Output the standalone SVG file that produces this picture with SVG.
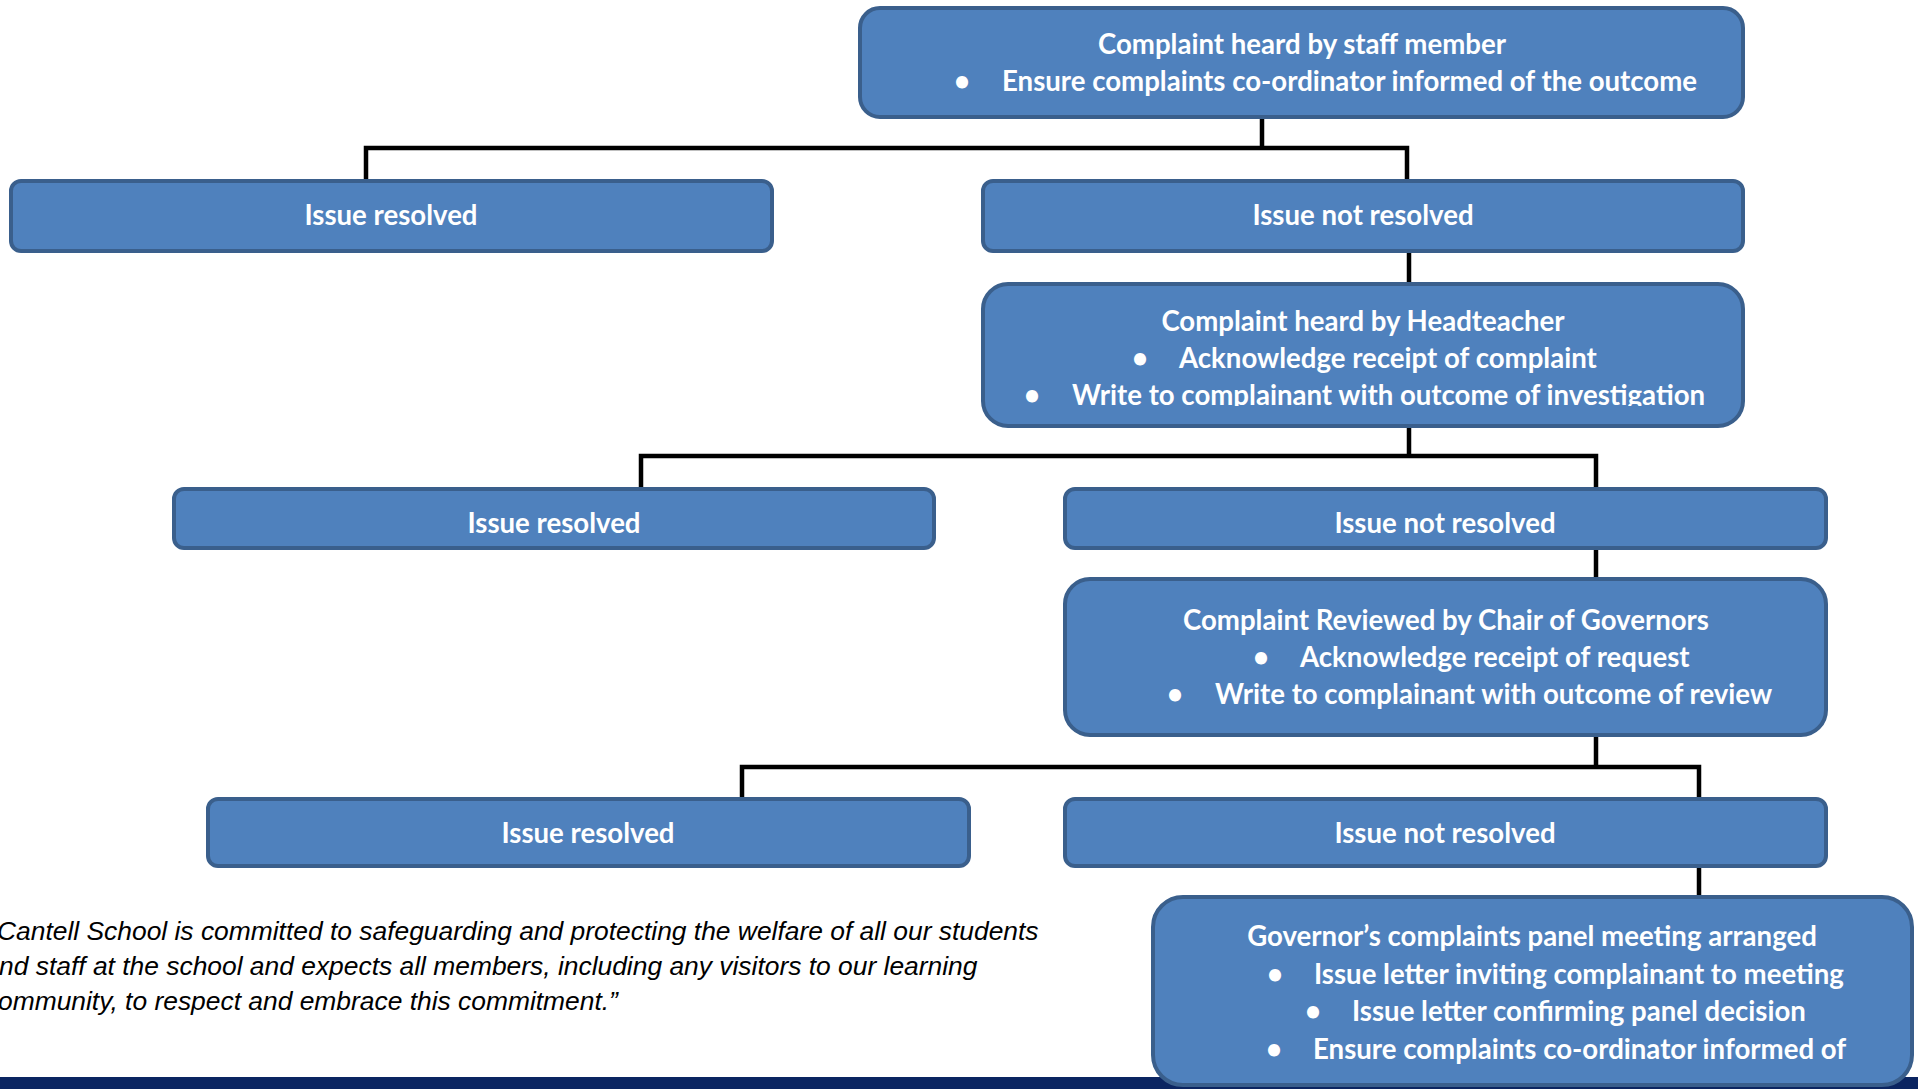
<svg xmlns="http://www.w3.org/2000/svg" width="1918" height="1089" viewBox="0 0 1918 1089">
<style>
.box{fill:#4F81BD;stroke:#3A5F8C;stroke-width:4}
.t{font-family:Lato,"Open Sans","Liberation Sans",sans-serif;font-weight:bold;font-size:27.6px;fill:#fff}
.c{text-anchor:middle}
.con{fill:none;stroke:#000;stroke-width:4.5}
.q{font-family:"Liberation Sans",Arial,sans-serif;font-style:italic;font-size:26.4px;fill:#000}
</style>
<defs>
<clipPath id="clipHead"><rect x="983" y="284" width="760" height="122"/></clipPath>
</defs>
<rect x="0" y="1077" width="1918" height="12" fill="#0B2561"/>
<g id="connectors">
<path class="con" d="M1262 117V148M366 181V148H1407V181"/>
<path class="con" d="M1409 251V284"/>
<path class="con" d="M1409 426V456M641 489V456H1596V489"/>
<path class="con" d="M1596 548V579"/>
<path class="con" d="M1596 735V767M742 799V767H1699V799"/>
<path class="con" d="M1699 866V897"/>
</g>
<g id="n1"><rect class="box" x="860" y="8" width="883" height="109" rx="20"/>
<text class="t c" x="1302" y="54">Complaint heard by staff member</text>
<text class="t" x="954" y="91">•</text><text class="t" x="1002" y="91">Ensure complaints co-ordinator informed of the outcome</text></g>
<g id="n2"><rect class="box" x="11" y="181" width="761" height="70" rx="10"/>
<text class="t c" x="391" y="225">Issue resolved</text></g>
<g id="n3"><rect class="box" x="983" y="181" width="760" height="70" rx="10"/>
<text class="t c" x="1363" y="225">Issue not resolved</text></g>
<g id="n4"><rect class="box" x="983" y="284" width="760" height="142" rx="25"/>
<g clip-path="url(#clipHead)">
<text class="t c" x="1363" y="331">Complaint heard by Headteacher</text>
<text class="t" x="1132" y="368">•</text><text class="t" x="1179" y="368">Acknowledge receipt of complaint</text>
<text class="t" x="1024" y="405">•</text><text class="t" x="1072" y="405">Write to complainant with outcome of investigation</text>
</g></g>
<g id="n5"><rect class="box" x="174" y="489" width="760" height="59" rx="10"/>
<text class="t c" x="554" y="533">Issue resolved</text></g>
<g id="n6"><rect class="box" x="1065" y="489" width="761" height="59" rx="10"/>
<text class="t c" x="1445" y="533">Issue not resolved</text></g>
<g id="n7"><rect class="box" x="1065" y="579" width="761" height="156" rx="25"/>
<text class="t c" x="1446" y="630">Complaint Reviewed by Chair of Governors</text>
<text class="t" x="1253" y="667">•</text><text class="t" x="1300" y="667">Acknowledge receipt of request</text>
<text class="t" x="1167" y="704">•</text><text class="t" x="1215" y="704">Write to complainant with outcome of review</text></g>
<g id="n8"><rect class="box" x="208" y="799" width="761" height="67" rx="10"/>
<text class="t c" x="588" y="843">Issue resolved</text></g>
<g id="n9"><rect class="box" x="1065" y="799" width="761" height="67" rx="10"/>
<text class="t c" x="1445" y="843">Issue not resolved</text></g>
<g id="n10"><rect class="box" x="1153" y="897" width="759" height="188" rx="30"/>
<text class="t c" x="1532" y="946">Governor’s complaints panel meeting arranged</text>
<text class="t" x="1267" y="984">•</text><text class="t" x="1314" y="984">Issue letter inviting complainant to meeting</text>
<text class="t" x="1305" y="1021">•</text><text class="t" x="1352" y="1021">Issue letter confirming panel decision</text>
<text class="t" x="1266" y="1059">•</text><text class="t" x="1313" y="1059">Ensure complaints co-ordinator informed of</text></g>
<g id="quote">
<text class="q" x="-3" y="940">Cantell School is committed to safeguarding and protecting the welfare of all our students</text>
<text class="q" x="-1" y="975">nd staff at the school and expects all members, including any visitors to our learning</text>
<text class="q" x="-2" y="1010">ommunity, to respect and embrace this commitment.”</text>
</g>
</svg>
